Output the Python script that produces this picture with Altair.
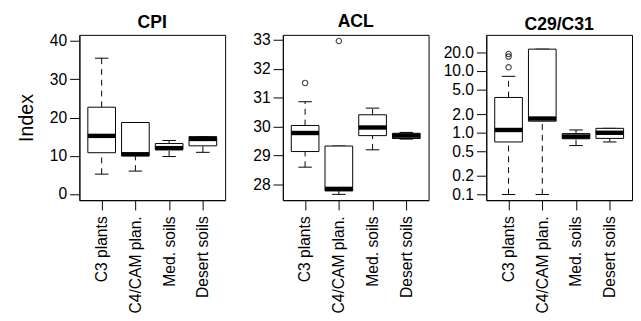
import json
import altair as alt
import pandas as pd

cats = ["C3 plants", "C4/CAM plan.", "Med. soils", "Desert soils"]
pos = [1, 2, 3, 4]

# CPI
cpi_lo = [5.2, 6.0, 9.8, 10.9]
cpi_q1 = [10.8, 10.0, 11.6, 12.6]
cpi_med = [15.2, 10.4, 12.0, 14.4]
cpi_q3 = [22.7, 18.7, 13.2, 15.0]
cpi_hi = [35.5, 18.7, 14.0, 15.0]
cpi_out_pos = []
cpi_out_val = []

# ACL
acl_lo = [28.6, 27.66, 29.2, 29.57]
acl_q1 = [29.14, 27.78, 29.69, 29.59]
acl_med = [29.78, 27.85, 29.97, 29.69]
acl_q3 = [30.04, 29.33, 30.41, 29.77]
acl_hi = [30.86, 29.33, 30.64, 29.80]
acl_out_pos = [1, 2]
acl_out_val = [31.51, 32.96]

# C29/C31
rat_lo = [0.1, 0.1, 0.62, 0.71]
rat_q1 = [0.71, 1.54, 0.80, 0.81]
rat_med = [1.11, 1.70, 0.87, 1.00]
rat_q3 = [3.73, 22.6, 0.97, 1.18]
rat_hi = [8.2, 22.6, 1.11, 1.18]
rat_out_pos = [1, 1, 1]
rat_out_val = [11.5, 17.1, 18.9]

cpi_ticks = [0, 10, 20, 30, 40]
acl_ticks = [28, 29, 30, 31, 32, 33]
rat_ticks = [0.1, 0.2, 0.5, 1, 2, 5, 10, 20]

FONT = "Liberation Sans"
PW, PH = 149, 169
label_expr = json.dumps(cats) + "[datum.value - 1]"


def panel(title, lo, q1, med, q3, hi, out_pos, out_val, ydomain, yticks,
          ytype="linear", yfmt=None, ytitle=None):
    df = pd.DataFrame({"cat": cats, "pos": pos, "lo": lo, "q1": q1,
                       "med": med, "q3": q3, "hi": hi})
    xscale = alt.Scale(domain=[0.34, 4.66], nice=False, zero=False)
    yscale = alt.Scale(domain=ydomain, type=ytype, nice=False, zero=False)
    xaxis = alt.Axis(values=pos, labelExpr=label_expr, labelAngle=-90,
                     grid=False, tickSize=10, labelPadding=6, labelFontSize=16,
                     labelColor="black", tickColor="black", domainColor="black",
                     labelFont=FONT, title=None)
    yax_kw = dict(values=yticks, grid=False, tickSize=10, labelPadding=3,
                  labelFontSize=16, labelColor="black", tickColor="black",
                  domainColor="black", labelFont=FONT, title=ytitle,
                  titleFontSize=20, titleFont=FONT, titleFontWeight="normal",
                  titleColor="black", titlePadding=13)
    if yfmt:
        yax_kw["format"] = yfmt
    yaxis = alt.Axis(**yax_kw)

    def X(f):
        return alt.X(f, type="quantitative", scale=xscale, axis=xaxis, title=None)

    def Y(f):
        return alt.Y(f, type="quantitative", scale=yscale, axis=yaxis, title=ytitle)

    base = alt.Chart(df).transform_calculate(
        xl="datum.pos - 0.41", xr="datum.pos + 0.41",
        cl="datum.pos - 0.2", cr="datum.pos + 0.2")

    wh_up = base.mark_rule(color="black", strokeDash=[6, 5], strokeWidth=1).encode(
        x=X("pos"), y=Y("q3"), y2="hi")
    wh_dn = base.mark_rule(color="black", strokeDash=[6, 5], strokeWidth=1).encode(
        x=X("pos"), y=Y("lo"), y2="q1")
    cap_up = base.mark_rule(color="black", strokeWidth=1).encode(
        x=X("cl"), x2="cr", y=Y("hi"))
    cap_dn = base.mark_rule(color="black", strokeWidth=1).encode(
        x=X("cl"), x2="cr", y=Y("lo"))
    box = base.mark_rect(fill="white", stroke="black", strokeWidth=1).encode(
        x=X("xl"), x2="xr", y=Y("q1"), y2="q3")
    medl = base.mark_rule(color="black", strokeWidth=4.5).encode(
        x=X("xl"), x2="xr", y=Y("med"))
    layers = [wh_up, wh_dn, cap_up, cap_dn, box, medl]
    if out_pos:
        odf = pd.DataFrame({"pos": out_pos, "val": out_val})
        pts = alt.Chart(odf).mark_point(shape="circle", filled=False, color="black",
                                        size=30, strokeWidth=1.2).encode(
            x=X("pos"), y=Y("val"))
        layers.append(pts)
    return alt.layer(*layers).properties(
        width=PW, height=PH,
        title=alt.TitleParams(title, fontSize=18, fontWeight="bold", font=FONT,
                              color="black", offset=1, anchor="middle"))


p1 = panel("CPI", cpi_lo, cpi_q1, cpi_med, cpi_q3, cpi_hi, cpi_out_pos, cpi_out_val,
           [-1.6, 41.6], cpi_ticks, ytitle="Index")
p2 = panel("ACL", acl_lo, acl_q1, acl_med, acl_q3, acl_hi, acl_out_pos, acl_out_val,
           [27.46, 33.17], acl_ticks)
p3 = panel("C29/C31", rat_lo, rat_q1, rat_med, rat_q3, rat_hi, rat_out_pos, rat_out_val,
           [0.081, 38.5], rat_ticks, ytype="log", yfmt=".1f")

chart = alt.hconcat(p1, p2, p3, spacing=59, bounds="flush").properties(
    padding={"left": 8, "top": 1, "right": 0, "bottom": 0},
    background="white",
).configure_view(stroke="black", strokeWidth=1)

chart.save("out.html", embed_options={"renderer": "svg", "actions": False})
